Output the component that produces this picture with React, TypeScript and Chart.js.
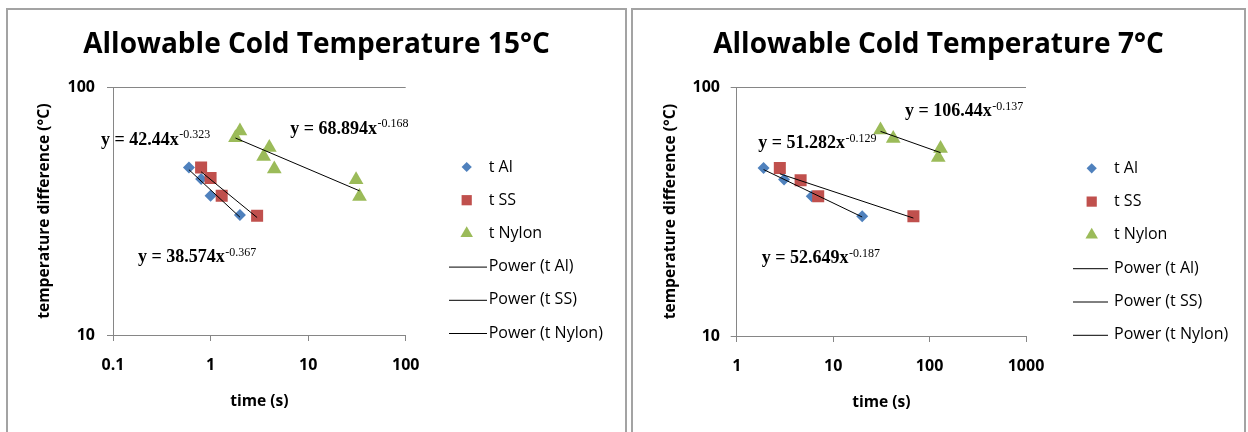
import React, { useEffect, useRef } from "react";
import { Chart, registerables } from "chart.js";
import { drawPoint } from "chart.js/helpers";

Chart.register(...registerables);

// ---------- shared names & colours ----------
const SERIES_NAMES = ["t Al", "t SS", "t Nylon"];
const FIT_NAMES = ["Power (t Al)", "Power (t SS)", "Power (t Nylon)"];
const COLORS = ["#4F81BD", "#C0504D", "#9BBB59"];
const Y_TITLE = "temperature difference (°C)";
const X_TITLE = "time (s)";

// ---------- chart 1 : 15°C ----------
const c1Title = "Allowable Cold Temperature 15°C";
const c1XTicks = [0.1, 1, 10, 100];
const c1YTicks = [10, 100];
const c1AlX = [0.6, 0.8, 1.0, 2.0];
const c1AlY = [47.4, 42.6, 36.5, 30.5];
const c1SSX = [0.8, 1.0, 1.3, 3.0];
const c1SSY = [47.4, 43.0, 36.5, 30.3];
const c1NyX = [2.0, 1.8, 4.0, 3.5, 4.5, 31, 33.6];
const c1NyY = [66.6, 62.6, 57.1, 52.5, 46.8, 42.3, 36.2];
const c1AlFitX = [0.6, 2.0];
const c1AlFitY = [46.5, 29.9];
const c1SSFitX = [0.8, 3.0];
const c1SSFitY = [45.6, 29.8];
const c1NyFitX = [1.8, 33.6];
const c1NyFitY = [62.4, 38.2];
const c1EqMain = ["y = 38.574x", "y = 42.44x", "y = 68.894x"];
const c1EqExp = ["-0.367", "-0.323", "-0.168"];

// ---------- chart 2 : 7°C ----------
const c2Title = "Allowable Cold Temperature 7°C";
const c2XTicks = [1, 10, 100, 1000];
const c2YTicks = [10, 100];
const c2AlX = [1.9, 3.1, 6, 20];
const c2AlY = [47.4, 42.6, 36.5, 30.3];
const c2SSX = [2.8, 4.6, 7, 68];
const c2SSY = [47.4, 42.3, 36.5, 30.3];
const c2NyX = [31, 42, 130, 123];
const c2NyY = [67.3, 62.3, 56.8, 52.2];
const c2AlFitX = [1.9, 20];
const c2AlFitY = [46.7, 30.1];
const c2SSFitX = [2.8, 68];
const c2SSFitY = [44.9, 29.8];
const c2NyFitX = [31, 130];
const c2NyFitY = [66.5, 54.6];
const c2EqMain = ["y = 52.649x", "y = 51.282x", "y = 106.44x"];
const c2EqExp = ["-0.187", "-0.129", "-0.137"];

// ---------- layout (not data) ----------
const layout1 = {
  canvasW: 617, canvasH: 422, yAxisW: 105, xAxisH: 97, padRight: 219.3, padTop: 77.3,
  titleY: 35,
  xTickPad: 14.4, yTickPad: 12, xTitlePad: 20.9, yTitlePad: 27.6,
  eqAnchors: [[0.18, 20.5], [0.0753, 61.3], [6.54, 67.9]],
  legend: { markerX: 458.7, lineX0: 441, lineX1: 479, textX: 480.7, rowY0: 157, rowGap: 33.2 },
};
const layout2 = {
  canvasW: 611, canvasH: 422, yAxisW: 103.7, xAxisH: 96, padRight: 218, padTop: 77.3,
  titleY: 35,
  xTickPad: 14.4, yTickPad: 10.7, xTitlePad: 19.6, yTitlePad: 28.3,
  eqAnchors: [[1.816, 20.5], [1.675, 59.4], [55.5, 79.7]],
  legend: { markerX: 458.7, lineX0: 440, lineX1: 475, textX: 481, rowY0: 158.3, rowGap: 33.3 },
};

const FONT = "'Open Sans', sans-serif";
const SERIF = "'Liberation Serif', serif";
const MARKER_STYLES = ["rectRot", "rect", "triangle"];
const MARKER_RADII = [6, 8.5, 8.5];
const AXIS_GRAY = "#868686";

type PanelData = {
  title: string;
  xTicks: number[];
  yTicks: number[];
  xs: number[][];
  ys: number[][];
  fitXs: number[][];
  fitYs: number[][];
  eqMain: string[];
  eqExp: string[];
};

const panel1: PanelData = {
  title: c1Title, xTicks: c1XTicks, yTicks: c1YTicks,
  xs: [c1AlX, c1SSX, c1NyX], ys: [c1AlY, c1SSY, c1NyY],
  fitXs: [c1AlFitX, c1SSFitX, c1NyFitX], fitYs: [c1AlFitY, c1SSFitY, c1NyFitY],
  eqMain: c1EqMain, eqExp: c1EqExp,
};
const panel2: PanelData = {
  title: c2Title, xTicks: c2XTicks, yTicks: c2YTicks,
  xs: [c2AlX, c2SSX, c2NyX], ys: [c2AlY, c2SSY, c2NyY],
  fitXs: [c2AlFitX, c2SSFitX, c2NyFitX], fitYs: [c2AlFitY, c2SSFitY, c2NyFitY],
  eqMain: c2EqMain, eqExp: c2EqExp,
};

const panelTitlePlugin = {
  id: "panelTitle",
  afterDraw(chart: any, _args: any, opts: any) {
    const { ctx } = chart;
    ctx.save();
    ctx.font = `bold 28px ${FONT}`;
    ctx.fillStyle = "#000";
    ctx.textAlign = "center";
    ctx.textBaseline = "middle";
    ctx.fillText(opts.text, chart.width / 2, opts.y);
    ctx.restore();
  },
};

const equationPlugin = {
  id: "equations",
  afterDatasetsDraw(chart: any, _args: any, opts: any) {
    const { ctx } = chart;
    const xs = chart.scales.x;
    const ys = chart.scales.y;
    ctx.save();
    ctx.fillStyle = "#000";
    ctx.textBaseline = "middle";
    ctx.textAlign = "left";
    (opts.main as string[]).forEach((txt: string, i: number) => {
      const [ax, ay] = opts.anchors[i];
      const px = xs.getPixelForValue(ax);
      const py = ys.getPixelForValue(ay);
      ctx.font = `bold 18px ${SERIF}`;
      ctx.fillText(txt, px, py);
      const w = ctx.measureText(txt).width;
      ctx.font = `12px ${SERIF}`;
      ctx.fillText(opts.exp[i], px + w + 0.5, py - 5);
    });
    ctx.restore();
  },
};

const sideLegendPlugin = {
  id: "sideLegend",
  afterDraw(chart: any, _args: any, opts: any) {
    const { ctx } = chart;
    ctx.save();
    ctx.font = `16px ${FONT}`;
    ctx.textBaseline = "middle";
    ctx.textAlign = "left";
    chart.data.datasets.forEach((ds: any, i: number) => {
      const y = opts.rowY0 + i * opts.rowGap;
      if (ds.showLine) {
        ctx.strokeStyle = ds.borderColor;
        ctx.lineWidth = 1;
        ctx.beginPath();
        ctx.moveTo(opts.lineX0, y + 0.5);
        ctx.lineTo(opts.lineX1, y + 0.5);
        ctx.stroke();
      } else {
        ctx.fillStyle = ds.backgroundColor;
        ctx.strokeStyle = ds.borderColor;
        drawPoint(ctx, { pointStyle: ds.pointStyle, radius: ds.pointRadius * 0.85, rotation: 0, borderWidth: 0 }, opts.markerX, y);
      }
      ctx.fillStyle = "#000";
      ctx.fillText(ds.label, opts.textX, y);
    });
    ctx.restore();
  },
};

function buildConfig(d: PanelData, L: any): any {
  const markerSets = [0, 1, 2].map((i) => ({
    label: SERIES_NAMES[i],
    data: d.xs[i].map((x, j) => ({ x, y: d.ys[i][j] })),
    showLine: false,
    pointStyle: MARKER_STYLES[i],
    pointRadius: MARKER_RADII[i],
    pointHoverRadius: MARKER_RADII[i],
    backgroundColor: COLORS[i],
    borderColor: COLORS[i],
    borderWidth: 0,
    order: 3 - i,
  }));
  const fitSets = [0, 1, 2].map((i) => ({
    label: FIT_NAMES[i],
    data: d.fitXs[i].map((x, j) => ({ x, y: d.fitYs[i][j] })),
    showLine: true,
    borderColor: "#000",
    backgroundColor: "#000",
    borderWidth: 1,
    pointRadius: 0,
    pointHoverRadius: 0,
    pointStyle: "line",
    order: 0,
  }));
  const tickFont = { family: FONT, size: 16, weight: "bold" };
  const titleFont = { family: FONT, size: 15.6, weight: "bold" };
  return {
    type: "scatter",
    data: { datasets: [...markerSets, ...fitSets] },
    options: {
      animation: false,
      responsive: false,
      events: [],
      layout: { padding: { left: 0, right: L.padRight, top: L.padTop, bottom: 0 } },
      scales: {
        x: {
          type: "logarithmic",
          min: d.xTicks[0],
          max: d.xTicks[d.xTicks.length - 1],
          afterBuildTicks: (s: any) => {
            s.ticks = d.xTicks.map((v) => ({ value: v }));
          },
          afterFit: (s: any) => {
            s.height = L.xAxisH;
          },
          ticks: {
            callback: (v: any) => String(v),
            font: tickFont,
            color: "#000",
            padding: L.xTickPad,
            autoSkip: false,
            maxRotation: 0,
          },
          grid: { drawOnChartArea: false, drawTicks: true, tickLength: 6, color: AXIS_GRAY },
          border: { display: true, color: AXIS_GRAY },
          title: {
            display: true,
            text: X_TITLE,
            font: titleFont,
            color: "#000",
            padding: { top: 0, bottom: L.xTitlePad },
          },
        },
        y: {
          type: "logarithmic",
          min: d.yTicks[0],
          max: d.yTicks[d.yTicks.length - 1],
          afterBuildTicks: (s: any) => {
            s.ticks = d.yTicks.map((v) => ({ value: v }));
          },
          afterFit: (s: any) => {
            s.width = L.yAxisW;
          },
          ticks: {
            callback: (v: any) => String(v),
            font: tickFont,
            color: "#000",
            padding: L.yTickPad,
            autoSkip: false,
          },
          grid: { drawTicks: true, tickLength: 6, color: AXIS_GRAY },
          border: { display: true, color: AXIS_GRAY },
          title: {
            display: true,
            text: Y_TITLE,
            font: titleFont,
            color: "#000",
            padding: { top: L.yTitlePad, bottom: 0 },
          },
        },
      },
      plugins: {
        legend: { display: false },
        tooltip: { enabled: false },
        title: { display: false },
        panelTitle: { text: d.title, y: L.titleY },
        equations: { main: d.eqMain, exp: d.eqExp, anchors: L.eqAnchors },
        sideLegend: L.legend,
      },
    },
    plugins: [panelTitlePlugin, equationPlugin, sideLegendPlugin],
  };
}

function Panel({ data, L, left, width }: { data: PanelData; L: any; left: number; width: number }) {
  const ref = useRef<HTMLCanvasElement | null>(null);
  useEffect(() => {
    if (!ref.current) return;
    const chart = new Chart(ref.current, buildConfig(data, L));
    return () => chart.destroy();
  }, []);
  return (
    <div
      style={{
        position: "absolute",
        left,
        top: 8,
        width,
        height: 440,
        border: "2px solid #a3a3a3",
        boxSizing: "border-box",
        background: "#fff",
      }}
    >
      <canvas ref={ref} width={L.canvasW} height={L.canvasH} style={{ display: "block", width: L.canvasW, height: L.canvasH }} />
    </div>
  );
}

export default function App() {
  return (
    <div style={{ position: "absolute", left: 0, top: 0, width: 1248, height: 432, overflow: "hidden", background: "#fff" }}>
      <Panel data={panel1} L={layout1} left={6} width={621} />
      <Panel data={panel2} L={layout2} left={631} width={615} />
    </div>
  );
}
